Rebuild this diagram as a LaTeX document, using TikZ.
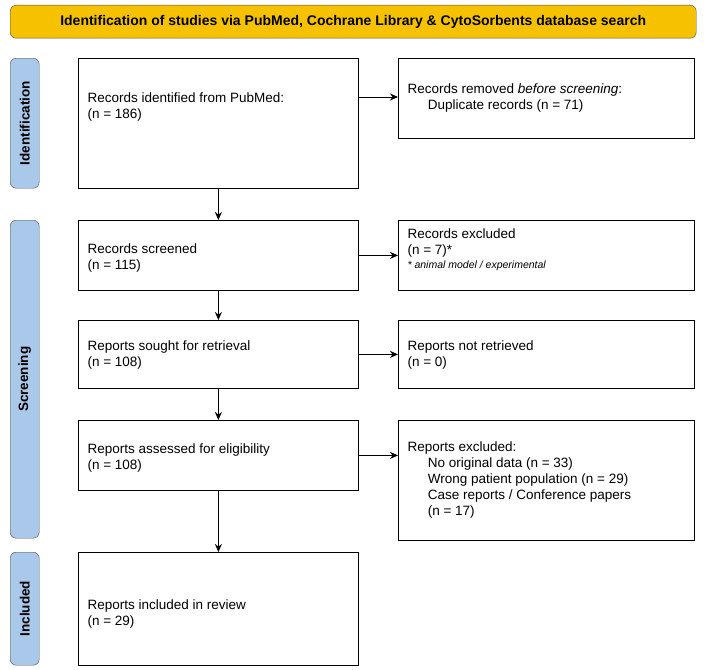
\documentclass[tikz,border=0pt]{standalone}
\usepackage{fontspec}
\setmainfont{Liberation Sans}
\usetikzlibrary{arrows.meta,positioning}
\definecolor{banner}{HTML}{F6C200}
\definecolor{phase}{HTML}{A9C8EA}
\tikzset{
  box/.style={draw=black,thick,align=left,anchor=north west,inner sep=6pt},
  txt/.style={anchor=west,align=left,font=\fontsize{13.5}{16}\selectfont},
  side/.style={draw=black!70,fill=phase,rounded corners=6pt,minimum width=29pt,anchor=north west},
  sidetxt/.style={rotate=90,font=\bfseries\fontsize{13.5}{16}\selectfont},
  flow/.style={-{Stealth[length=8pt,width=7pt]},thick}
}
\begin{document}
\begin{tikzpicture}[x=1pt,y=-1pt]
\useasboundingbox (0,0) rectangle (708,669);
% banner
\node[draw=black!70,fill=banner,rounded corners=6pt,minimum width=686pt,minimum height=33pt,anchor=north west,font=\bfseries\fontsize{14}{16}\selectfont] (title) at (10,5) {Identification of studies via PubMed, Cochrane Library \& CytoSorbents database search};
% phases
\node[side,minimum height=130pt] (ident) at (10,58) {};
\node[sidetxt] at (ident.center) {Identification};
\node[side,minimum height=318pt] (screen) at (10,220) {};
\node[sidetxt] at (screen.center) {Screening};
\node[side,minimum height=113pt] (incl) at (10,552) {};
\node[sidetxt] at (incl.center) {Included};
% main column
\node[box,minimum width=280pt,minimum height=130pt] (pubmed) at (78,58) {};
\node[txt] at (84,107) {Records identified from PubMed:\\(n = 186)};
\node[box,minimum width=280pt,minimum height=70pt] (screened) at (78,220) {};
\node[txt] at (84,258) {Records screened\\(n = 115)};
\node[box,minimum width=280pt,minimum height=68pt] (sought) at (78,320) {};
\node[txt] at (84,355) {Reports sought for retrieval\\(n = 108)};
\node[box,minimum width=280pt,minimum height=70pt] (assessed) at (78,420) {};
\node[txt] at (84,458) {Reports assessed for eligibility\\(n = 108)};
\node[box,minimum width=280pt,minimum height=113pt] (included) at (78,552) {};
\node[txt] at (84,614) {Reports included in review\\(n = 29)};
% right column
\node[box,minimum width=296pt,minimum height=80pt] (removed) at (398,58) {};
\node[txt] at (404,98) {Records removed \textit{before screening}:\\\hspace{1.5em}Duplicate records (n = 71)};
\node[box,minimum width=296pt,minimum height=70pt] (excluded) at (398,220) {};
\node[txt] at (404,250) {Records excluded\\(n = 7)*\\[-2pt]{\fontsize{10.5}{12}\selectfont\itshape * animal model / experimental}};
\node[box,minimum width=296pt,minimum height=68pt] (notret) at (398,320) {};
\node[txt] at (404,355) {Reports not retrieved\\(n = 0)};
\node[box,minimum width=296pt,minimum height=120pt] (reportsex) at (398,420) {};
\node[txt] at (404,480) {Reports excluded:\\\hspace{1.5em}No original data (n = 33)\\\hspace{1.5em}Wrong patient population (n = 29)\\\hspace{1.5em}Case reports / Conference papers\\\hspace{1.5em}(n = 17)};
% connectors
\draw[flow] (pubmed) -- (screened);
\draw[flow] (screened) -- (sought);
\draw[flow] (sought) -- (assessed);
\draw[flow] (assessed) -- (included);
\draw[flow] (pubmed.east |- 0,97) -- (removed.west |- 0,97);
\draw[flow] (screened) -- (excluded);
\draw[flow] (sought) -- (notret);
\draw[flow] (assessed) -- (reportsex.west |- assessed);
\end{tikzpicture}
\end{document}
